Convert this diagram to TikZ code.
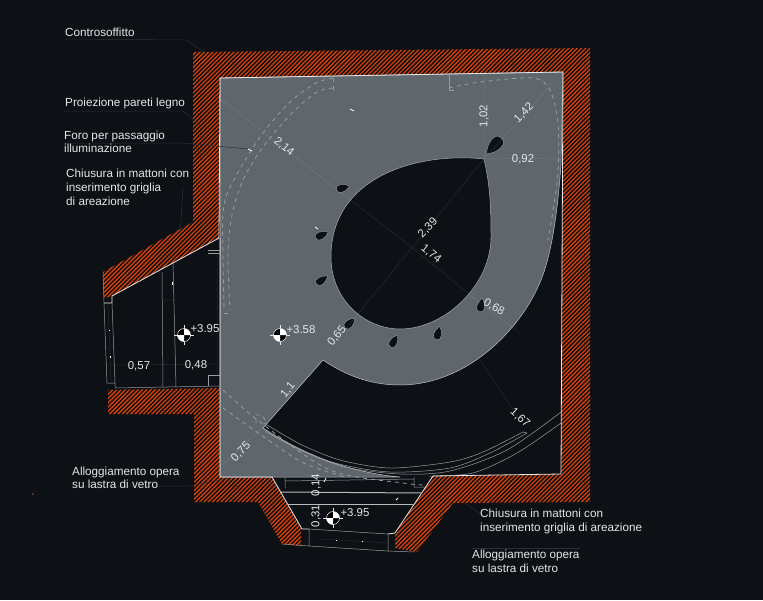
\documentclass[tikz,border=0pt]{standalone}
\usepackage{fontspec}
\setmainfont{Liberation Sans}
\usetikzlibrary{patterns.meta}
\definecolor{sfondo}{HTML}{0D1116}
\definecolor{lastra}{HTML}{5F676D}
\definecolor{mattoni}{HTML}{DA3F0B}
\definecolor{tratto}{HTML}{E4E6E7}
\definecolor{fioco}{HTML}{2A3036}
\tikzset{
	muro/.style={pattern={Lines[angle=45,distance=3pt,line width=1.3pt]},pattern color=mattoni},
	filo/.style={tratto,line width=0.8pt},
	sottile/.style={tratto!65!sfondo,line width=0.5pt},
	proiezione/.style={tratto!42!lastra,line width=0.8pt,dash pattern=on 4pt off 4pt},
	quota/.style={white,opacity=0.1,line width=0.5pt},
	richiamo/.style={fioco,line width=0.5pt},
	etichetta/.style={text=tratto,font=\fontsize{11.7}{13.4}\selectfont,anchor=west,align=left,inner sep=0pt},
	misura/.style={text=tratto,font=\fontsize{11.4}{12}\selectfont,inner sep=0pt},
	foro/.style={fill=sfondo,draw=tratto!55!lastra,line width=0.3pt}
}
\newcommand{\goccia}[4]{\path[foro,shift={(#1,#2)},rotate=#3,scale=#4]
	(7,0) .. controls (2,4.5) and (-7,6) .. (-7,0) .. controls (-7,-6) and (2,-4.5) .. (7,0);}
\newcommand{\livello}[2]{
	\draw[tratto,line width=0.3pt] (#1-10,#2) -- (#1+10,#2) (#1,#2-10) -- (#1,#2+10);
	\fill[black] (#1,#2) circle (6.5);
	\fill[white] (#1,#2) -- (#1-6.5,#2) arc (180:90:6.5) -- cycle;
	\fill[white] (#1,#2) -- (#1+6.5,#2) arc (0:-90:6.5) -- cycle;
	\draw[white,line width=0.5pt] (#1,#2) circle (6.5);}
\begin{document}
\begin{tikzpicture}[x=1pt,y=-1pt]
	\useasboundingbox (0,0) rectangle (763,600);
	\fill[sfondo] (0,0) rectangle (763,600);

	% muri
	\fill[muro] (193,52) -- (590,48) -- (590,502) -- (453,503) -- (417,552) -- (395,548) -- (395,533)
		-- (433,476) -- (561,474) -- (563,72) -- (220,78) -- (219,238) -- (112,296) -- (104,298) -- (103,272) -- (193,222) -- cycle;
	\fill[muro] (108,390) -- (220,388) -- (220,477) -- (272,477) -- (301,529) -- (301,546) -- (282,544)
		-- (258,502) -- (194,502) -- (194,414) -- (108,414) -- cycle;

	% lastra e foro centrale
	\path[fill=lastra,draw=tratto!70!lastra,line width=0.5pt] (220,78) -- (563,72) -- (561,165)
		.. controls (558,205) and (553,250) .. (541,280)
		.. controls (520,332) and (465,385) .. (400,385)
		.. controls (370,385) and (345,375) .. (323,360)
		-- (263,428) .. controls (300,452) and (345,472) .. (400,477)
		-- (220,477) -- cycle;
	\path[foro,line width=0.5pt] (484,159) .. controls (420,152) and (331,175) .. (331,257)
		.. controls (331,300) and (365,329) .. (400,329)
		.. controls (445,329) and (491,285) .. (491,237)
		.. controls (491,205) and (490,185) .. (484,159) -- cycle;
	\goccia{343}{188}{15}{1}
	\goccia{322}{235}{25}{1}
	\goccia{322}{280}{35}{1}
	\goccia{350}{323}{45}{1}
	\goccia{394}{341}{60}{1}
	\goccia{438}{333}{75}{1}
	\goccia{481}{305}{80}{1}
	\goccia{494}{146}{227}{1.55}

	% quote
	\draw[quota] (484,159) -- (484,78) (484,159) -- (561,158) (484,159) -- (552,84) (484,159) -- (345,330);
	\draw[quota] (222,100) -- (415,250) -- (481,304) -- (520,333) (480,360) -- (520,420) (222,465) -- (262,428) (108,365) -- (217,364);

	% proiezione pareti
	\draw[proiezione] plot[smooth] coordinates {(333,78) (316,83) (290,102) (260,137) (230,187) (223,213) (223,255) (224,310)};
	\draw[proiezione] plot[smooth] coordinates {(333,88) (317,92) (293,112) (263,147) (243,180) (232,215) (228,255) (230,310)};
	\draw[proiezione] (333,78) -- (333,91) (224,313) -- (230,313);
	\draw[proiezione] plot[smooth] coordinates {(449,88) (480,82) (533,78) (550,90) (558,123) (558,173) (552,217) (548,240)};
	\draw[sottile] (449,75) -- (449,90) -- (454,90);
	\draw[proiezione] plot[smooth] coordinates {(223,390) (260,422) (330,470) (403,483) (425,485)};
	\draw[proiezione] plot[smooth] coordinates {(223,408) (290,455) (313,467) (345,477)};
	\draw[proiezione] (256,423) -- (256,415) -- (262,415) -- (266,421);

	% archi
	\draw[sottile] plot[smooth] coordinates {(264,423) (300,444) (340,460) (390,468) (450,462) (483,452) (523,432)} -- (527,433);
	\draw[sottile] plot[smooth] coordinates {(263,428) (295,447) (335,463) (390,472) (450,468) (490,453) (527,433)};
	\draw[sottile] plot[smooth] coordinates {(265,431) (300,450) (345,467) (400,474) (450,471) (507,450) (561,412)};
	\draw[sottile] plot[smooth] coordinates {(430,476) (473,473) (517,453) (561,423)};

	% profilo muri
	\draw[filo] (433,476) -- (561,474) -- (563,72) -- (220,78) -- (219,238) -- (112,296) -- (112,303) -- (104,303);
	\draw[filo] (220,238) -- (220,477) -- (272,477) -- (302,529) -- (309,529);
	\draw[filo] (433,476) -- (395,533) -- (388,534);
	\draw[sottile] (103,272) -- (104,303) -- (107,383) -- (115,383) -- (115,388) -- (220,386);
	\draw[sottile] (112,303) -- (115,383) (282,544) -- (309,546) -- (388,551) -- (414,552);

	% nicchia sinistra
	\draw[sottile] (162,272) -- (163,387) (173,263) -- (176,387);
	\draw[sottile] (208,250) -- (220,250) (208,253) -- (220,253) (208,386) -- (208,375) -- (220,375);
	\draw[quota] (217,255) -- (217,375) (163,300) -- (176,300) (108,303) -- (111,383);

	% nicchia in basso
	\draw[sottile] (285,477) -- (285,488) (285,481) -- (414,479) (414,477) -- (414,487) -- (425,487);
	\draw[tratto!80!sfondo,line width=1pt] (280,492) -- (422,493);
	\draw[tratto!80!sfondo,line width=0.8pt] (288,504) -- (413,504);
	\draw[sottile] (309,529) -- (309,546) (309,529) -- (388,534) -- (388,551);
	\draw[quota] (320,539) -- (388,543);

	% segni
	\foreach \xa/\ya/\xb/\yb in {248/149/252/151, 350/109/354/111, 315/227/318/229, 172/282/172/285, 109/330/109/331, 110/356/110/358, 336/540/336/541, 362/541/362/542, 324/482/326/478, 396/500/398/498}
		\draw[white,line width=0.8pt] (\xa,\ya) -- (\xb,\yb);
	\foreach \xa/\ya in {33/494, 233/388}
		\fill[mattoni!70!lastra] (\xa,\ya) circle (0.8);

	% richiami
	\draw[richiamo] (65,39) -- (186,40) -- (205,52);
	\draw[richiamo] (64,111) -- (183,111) -- (200,125);
	\draw[richiamo] (64,143) -- (184,143) -- (248,149);
	\draw[richiamo] (183,187) -- (180,236);
	\draw[richiamo] (72,486) -- (190,486) -- (228,478);
	\draw[richiamo] (480,513) -- (465,503);
	\draw[richiamo] (472,548) -- (580,548);

	% testi
	\node[etichetta] (controsoffitto) at (65,32) {Controsoffitto};
	\node[etichetta] (proiezione) at (65,103) {Proiezione pareti legno};
	\node[etichetta] (foropass) at (64,142) {Foro per passaggio\\illuminazione};
	\node[etichetta] (chiusuraA) at (66,187) {Chiusura in mattoni con\\[0.6pt]inserimento griglia\\[0.6pt]di areazione};
	\node[etichetta] (alloggioA) at (72,478) {Alloggiamento opera\\su lastra di vetro};
	\node[etichetta] (chiusuraB) at (480,521.5) {Chiusura in mattoni con\\inserimento griglia di areazione};
	\node[etichetta] (alloggioB) at (472,561.5) {Alloggiamento opera\\su lastra di vetro};

	\node[misura,rotate=-38] (mA) at (284,147) {2,14};
	\node[misura,rotate=90] (mB) at (484,116) {1,02};
	\node[misura,rotate=45] (mC) at (524,113) {1,42};
	\node[misura] (mD) at (523,159) {0,92};
	\node[misura,rotate=45] (mE) at (428,228) {2,39};
	\node[misura,rotate=-38] (mF) at (431,254) {1,74};
	\node[misura,rotate=-30] (mG) at (494,307) {0,68};
	\node[misura,rotate=50] (mH) at (337,336) {0,65};
	\node[misura,rotate=50] (mI) at (288,390) {1,1};
	\node[misura,rotate=-42] (mJ) at (520,418) {1,67};
	\node[misura,rotate=45] (mK) at (241,452) {0,75};
	\node[misura] (mL) at (139,366) {0,57};
	\node[misura] (mM) at (196,365) {0,48};
	\node[misura,rotate=90] (mN) at (316,485) {0,14};
	\node[misura,rotate=90] (mO) at (316,516) {0,31};

	\livello{184}{335}
	\livello{280}{335}
	\livello{333}{518}
	\node[misura] (quotaA) at (205,329) {+3.95};
	\node[misura] (quotaB) at (301,329.5) {+3.58};
	\node[misura] (quotaC) at (355,513) {+3.95};
\end{tikzpicture}
\end{document}
